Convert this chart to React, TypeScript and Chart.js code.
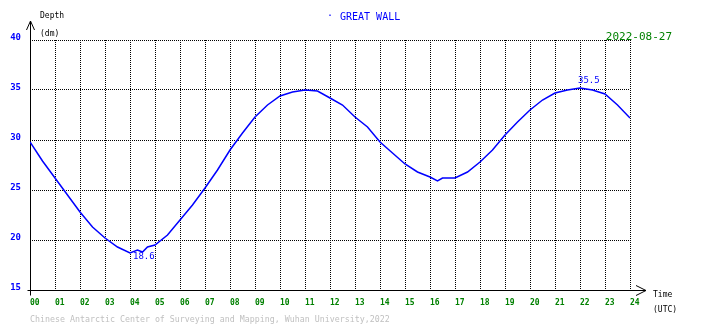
import React, { useEffect, useRef } from 'react';
import { Chart, registerables } from 'chart.js';

Chart.register(...registerables);

const hours = [0, 0.5, 1, 1.5, 2, 2.5, 3, 3.5, 4, 4.3, 4.5, 4.7, 5, 5.5, 6, 6.5, 7, 7.5, 8, 8.5, 9, 9.5, 10, 10.5, 11, 11.5, 12, 12.5, 13, 13.5, 14, 14.5, 15, 15.5, 16, 16.3, 16.5, 17, 17.5, 18, 18.5, 19, 19.5, 20, 20.5, 21, 21.5, 22, 22.5, 23, 23.5, 24];
const depths = [29.8, 27.9, 26.2, 24.5, 22.8, 21.3, 20.2, 19.3, 18.7, 19.0, 18.8, 19.3, 19.5, 20.5, 22.0, 23.5, 25.2, 27.0, 29.0, 30.7, 32.3, 33.5, 34.4, 34.8, 35.0, 34.9, 34.2, 33.5, 32.3, 31.3, 29.8, 28.7, 27.6, 26.8, 26.3, 25.9, 26.2, 26.2, 26.8, 27.8, 29.0, 30.5, 31.8, 33.0, 34.0, 34.7, 35.0, 35.2, 35.0, 34.6, 33.5, 32.2];

const hourLabels = ['00', '01', '02', '03', '04', '05', '06', '07', '08', '09', '10', '11', '12', '13', '14', '15', '16', '17', '18', '19', '20', '21', '22', '23', '24'];
const depthTicks = [15, 20, 25, 30, 35, 40];

const extremeHours = [4.0, 22.0];
const extremeValues = [18.6, 35.5];

const stationName = 'GREAT WALL';
const dateLabel = '2022-08-27';
const yAxisTitle = 'Depth';
const yAxisUnit = '(dm)';
const xAxisTitle = 'Time';
const xAxisUnit = '(UTC)';
const footerText = 'Chinese Antarctic Center of Surveying and Mapping, Wuhan University,2022';

const MONO = '"DejaVu Sans Mono", "Liberation Mono", monospace';

const decorPlugin = {
  id: 'decor',
  beforeDatasetsDraw(chart: any) {
    const { ctx, chartArea } = chart;
    const { left, right, top, bottom } = chartArea;
    ctx.save();
    ctx.strokeStyle = '#000';
    ctx.lineWidth = 1;
    ctx.setLineDash([]);
    // y axis with arrow
    const ax = Math.round(left) + 0.5;
    const ay = Math.round(bottom) + 0.5;
    ctx.beginPath();
    ctx.moveTo(ax, ay + 5);
    ctx.lineTo(ax, top - 19);
    ctx.moveTo(ax - 4, top - 10);
    ctx.lineTo(ax, top - 19);
    ctx.lineTo(ax + 4, top - 10);
    // x axis with arrow
    ctx.moveTo(ax - 3, ay);
    ctx.lineTo(right + 16, ay);
    ctx.moveTo(right + 6, ay - 5);
    ctx.lineTo(right + 16, ay);
    ctx.lineTo(right + 6, ay + 5);
    ctx.stroke();
    ctx.restore();
  },
  afterDraw(chart: any) {
    const { ctx, chartArea, scales } = chart;
    const { left, right, top, bottom } = chartArea;
    ctx.save();
    ctx.textBaseline = 'middle';
    // axis titles
    ctx.fillStyle = '#000';
    ctx.font = `8px ${MONO}`;
    ctx.textAlign = 'left';
    ctx.fillText(yAxisTitle, left + 10, top - 24);
    ctx.fillText(yAxisUnit, left + 10, top - 6);
    ctx.fillText(xAxisTitle, right + 23, bottom + 5);
    ctx.fillText(xAxisUnit, right + 23, bottom + 20);
    // station title
    ctx.fillStyle = '#0000ff';
    ctx.font = `10px ${MONO}`;
    ctx.textAlign = 'left';
    ctx.fillText('\u00b7', 327, top - 24);
    ctx.fillText(stationName, 340, top - 23);
    // date
    ctx.fillStyle = '#008000';
    ctx.font = `11px ${MONO}`;
    ctx.textAlign = 'right';
    ctx.fillText(dateLabel, 672, top - 3);
    // footer
    ctx.fillStyle = '#c0c0c0';
    ctx.font = `8.3px ${MONO}`;
    ctx.textAlign = 'left';
    ctx.fillText(footerText, left, bottom + 30);
    // extreme labels
    ctx.fillStyle = '#0000ff';
    ctx.font = `9px ${MONO}`;
    const x0 = scales.x.getPixelForValue(extremeHours[0]);
    const y0 = scales.y.getPixelForValue(extremeValues[0]);
    ctx.fillText(extremeValues[0].toFixed(1), x0 + 3, y0 + 3);
    const x1 = scales.x.getPixelForValue(extremeHours[1]);
    const y1 = scales.y.getPixelForValue(extremeValues[1]);
    ctx.fillText(extremeValues[1].toFixed(1), x1 - 2, y1 - 4);
    ctx.restore();
  },
};

export default function App() {
  const canvasRef = useRef<HTMLCanvasElement | null>(null);

  useEffect(() => {
    const canvas = canvasRef.current;
    if (!canvas) return;
    const chart = new Chart(canvas, {
      type: 'line',
      data: {
        datasets: [
          {
            data: hours.map((h, i) => ({ x: h, y: depths[i] })),
            borderColor: '#0000ff',
            borderWidth: 1.5,
            pointRadius: 0,
            tension: 0,
            fill: false,
          },
        ],
      },
      options: {
        responsive: false,
        animation: false,
        events: [],
        layout: { padding: { left: 0, top: 40, right: 80, bottom: 0 } },
        plugins: {
          legend: { display: false },
          tooltip: { enabled: false },
          title: { display: false },
        },
        scales: {
          x: {
            type: 'linear',
            min: 0,
            max: 24,
            afterBuildTicks: (scale: any) => {
              scale.ticks = hourLabels.map((_, i) => ({ value: i }));
            },
            afterFit: (scale: any) => {
              scale.height = 38;
            },
            ticks: {
              autoSkip: false,
              maxRotation: 0,
              align: 'start',
              padding: 8,
              color: '#008000',
              font: { family: MONO, size: 8, weight: 'bold' },
              callback: (v: any) => hourLabels[Math.round(Number(v))],
            },
            grid: { color: '#000', lineWidth: 1, drawTicks: false },
            border: { display: false, dash: [1, 1] },
          },
          y: {
            type: 'linear',
            min: 15,
            max: 40,
            afterBuildTicks: (scale: any) => {
              scale.ticks = depthTicks.map((v) => ({ value: v }));
            },
            afterFit: (scale: any) => {
              scale.width = 30;
            },
            ticks: {
              padding: 9,
              labelOffset: -2,
              color: '#0000ff',
              font: { family: MONO, size: 9, weight: 'bold' },
              callback: (v: any) => String(v),
            },
            grid: { color: '#000', lineWidth: 1, drawTicks: false },
            border: { display: false, dash: [1, 1] },
          },
        },
      },
      plugins: [decorPlugin],
    } as any);
    return () => chart.destroy();
  }, []);

  return (
    <div style={{ position: 'absolute', left: 0, top: 0, width: 710, height: 328, background: '#fff' }}>
      <canvas ref={canvasRef} width={710} height={328} />
    </div>
  );
}
